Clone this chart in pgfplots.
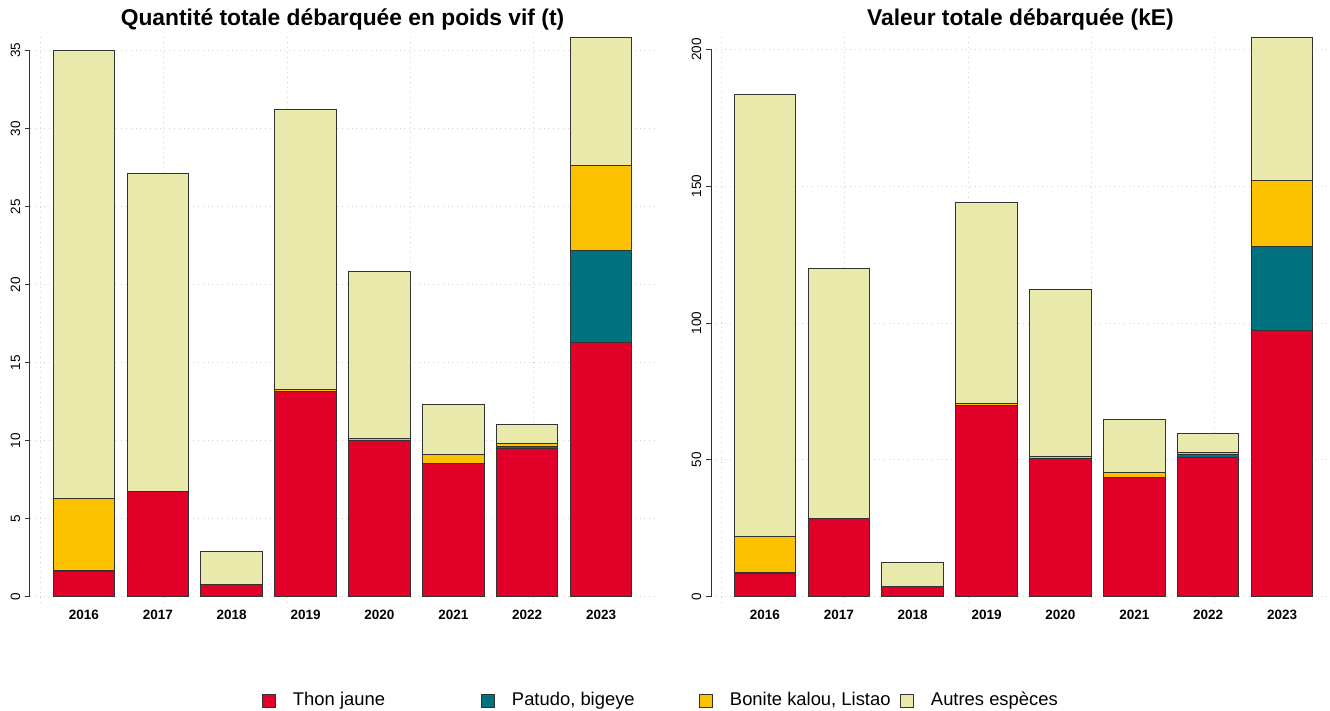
\documentclass[border=0pt]{standalone}
\usepackage{fontspec}
\setmainfont{Liberation Sans}
\usepackage{pgfplots}
\pgfplotsset{compat=1.18}
\usepackage{pgfplotstable}

\definecolor{cRed}{RGB}{225,0,40}
\definecolor{cTeal}{RGB}{0,113,127}
\definecolor{cYel}{RGB}{252,194,0}
\definecolor{cBei}{RGB}{232,233,170}

\pgfplotstableread{
x red teal yellow autres
0.7 1.62 0.10 4.60 28.67
1.9 6.77 0 0 20.36
3.1 0.83 0 0 2.07
4.3 13.19 0 0.12 17.90
5.5 9.99 0 0.13 10.74
6.7 8.52 0 0.62 3.16
7.9 9.50 0.13 0.17 1.24
9.1 16.31 5.85 5.49 8.20
}\tabT

\pgfplotstableread{
x red teal yellow autres
0.7 8.3 0.7 12.9 161.7
1.9 28.4 0 0 91.6
3.1 3.9 0 0 8.7
4.3 70.0 0 0.7 73.5
5.5 50.6 0 0.8 61.0
6.7 43.5 0 1.9 19.2
7.9 51.0 0.8 1.0 6.8
9.1 97.2 30.9 24.0 52.3
}\tabV

\pgfplotsset{
  rstyle/.style={
    scale only axis, anchor=south west,
    ybar stacked, bar width=1, bar shift=0pt,
    xmin=-0.176,
    clip=false,
    axis line style={draw=none},
    xtick={0.7,1.9,3.1,4.3,5.5,6.7,7.9,9.1},
    xticklabels={2016,2017,2018,2019,2020,2021,2022,2023},
    minor xtick={0,2,4,6,8},
    xminorgrids=true, ymajorgrids=true, xmajorgrids=false,
    grid style={gray!35, dotted, line width=0.5pt},
    minor grid style={gray!35, dotted, line width=0.5pt},
    xtick pos=bottom, ytick pos=left,
    tick align=outside,
    major tick length=2.5pt, minor tick length=0pt,
    xtick style={draw=none},
    ytick style={black!80, line width=0.5pt},
    /pgf/number format/assume math mode=true,
    xticklabel style={font=\fontsize{6.75}{8}\selectfont\bfseries, anchor=base, yshift=-6pt},
    yticklabel style={font=\fontsize{6.75}{8}\selectfont, rotate=90, anchor=base},
    yticklabel shift=2.5pt,
    every axis title shift=0pt,
    title style={font=\fontsize{11.4}{13}\selectfont\bfseries, at={(0.5,1)}, anchor=base, yshift=5.5pt},
    every axis plot/.append style={draw=black!80, line width=0.5pt},
    legend image code/.code={\draw[#1, draw=black!80, line width=0.5pt] (0pt,-3.25pt) rectangle (6.5pt,3.25pt);},
  }
}

\begin{document}
\begin{tikzpicture}
\path[use as bounding box] (0,0) rectangle (665pt,355.5pt);
\begin{axis}[rstyle,
  at={(15pt,54pt)}, width=312.5pt, height=283pt,
  xmax=9.976, ymin=-0.384, ymax=35.86,
  ytick={0,5,10,15,20,25,30,35},
  title={Quantité totale débarquée en poids vif (t)},
  legend columns=4,
  legend style={draw=none, fill=none, inner sep=0pt, outer sep=0pt,
    at={(0.3712,-0.1725)}, anchor=west,
    font=\fontsize{9.2}{11}\selectfont,
    nodes={inner sep=0pt},
    /tikz/every odd column/.append style={column sep=8.5pt}},
]
\addplot[fill=cRed] table[x=x,y=red]{\tabT};
\addplot[fill=cTeal] table[x=x,y=teal]{\tabT};
\addplot[fill=cYel] table[x=x,y=yellow]{\tabT};
\addplot[fill=cBei] table[x=x,y=autres]{\tabT};
\addlegendentry{\makebox[94pt][l]{Thon jaune}}
\addlegendentry{\makebox[93.5pt][l]{Patudo, bigeye}}
\addlegendentry{\makebox[85pt][l]{Bonite kalou, Listao}}
\addlegendentry{Autres espèces}
\draw[black!80, line width=0.5pt] (axis cs:-0.176,0) -- (axis cs:-0.176,35);
\end{axis}

\begin{axis}[rstyle,
  at={(355.5pt,54pt)}, width=309.5pt, height=283pt,
  xmax=9.879, ymin=-2.3, ymax=204.5,
  ytick={0,50,100,150,200},
  title={Valeur totale débarquée (kE)},
]
\addplot[fill=cRed] table[x=x,y=red]{\tabV};
\addplot[fill=cTeal] table[x=x,y=teal]{\tabV};
\addplot[fill=cYel] table[x=x,y=yellow]{\tabV};
\addplot[fill=cBei] table[x=x,y=autres]{\tabV};
\draw[black!80, line width=0.5pt] (axis cs:-0.176,0) -- (axis cs:-0.176,200);
\end{axis}
\end{tikzpicture}
\end{document}
